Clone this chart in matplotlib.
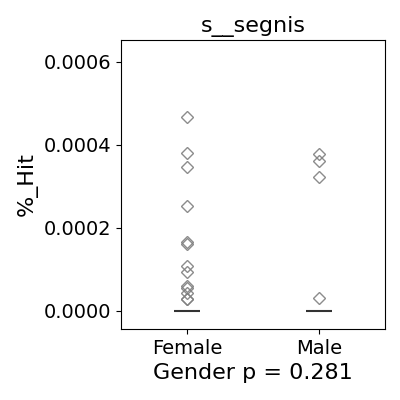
import matplotlib
matplotlib.use('Agg')
import matplotlib.pyplot as plt
import numpy as np

groups = ['Female', 'Male']
female = [4.68e-4, 3.81e-4, 3.47e-4, 2.52e-4, 1.65e-4, 1.61e-4,
          1.09e-4, 0.93e-4, 0.60e-4, 0.56e-4, 0.44e-4, 0.30e-4, 0.28e-4]
male = [3.79e-4, 3.61e-4, 3.24e-4, 0.31e-4]
medians = [0.0, 0.0]
p_value = 0.281
title = 's__segnis'

fig = plt.figure(figsize=(4, 4), dpi=100)
ax = fig.add_axes([0.3025, 0.1775, 0.66, 0.7225])

for i, vals in enumerate([female, male]):
    ax.plot(np.full(len(vals), i), vals, linestyle='none', marker='D',
            markersize=6.5, markerfacecolor='none', markeredgecolor='gray',
            markeredgewidth=1.0, alpha=0.9)
    ax.hlines(medians[i], i - 0.1, i + 0.1, color='#333333', linewidth=1.5)

ax.set_xlim(-0.5, 1.5)
ax.set_ylim(-0.435e-4, 6.53e-4)
ax.set_xticks([0, 1])
ax.set_xticklabels(groups, fontsize=14)
ax.set_yticks([0, 0.0002, 0.0004, 0.0006])
ax.set_yticklabels(['0.0000', '0.0002', '0.0004', '0.0006'], fontsize=14)
ax.set_ylabel('%_Hit', fontsize=16)
ax.set_xlabel('Gender p = %.3f' % p_value, fontsize=16, labelpad=4)
ax.set_title(title, fontsize=16, pad=6)

fig.savefig('out.png', dpi=100)
